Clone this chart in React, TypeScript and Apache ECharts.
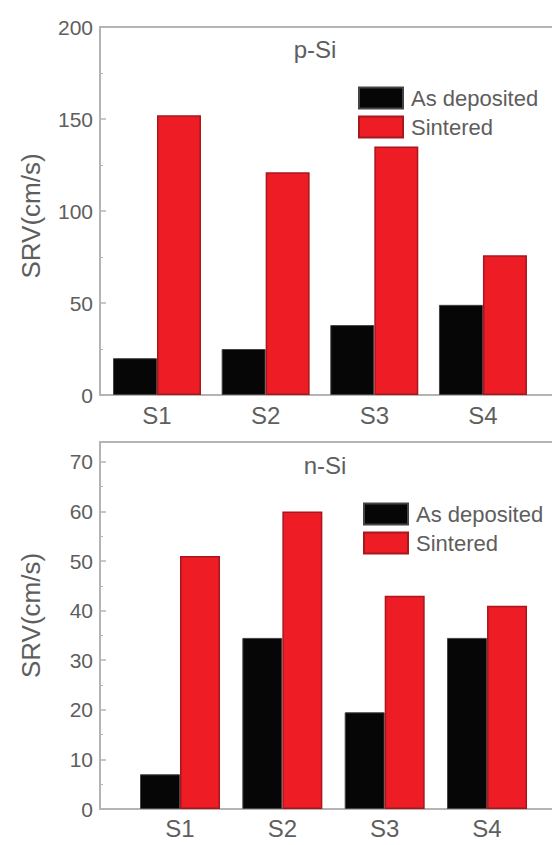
import React, { useEffect, useRef } from "react";
import * as echarts from "echarts";

const categories = ["S1", "S2", "S3", "S4"];
const seriesNames = ["As deposited", "Sintered"];
const pAsDeposited = [20, 25, 38, 49];
const pSintered = [152, 121, 135, 76];
const nAsDeposited = [7, 34.5, 19.5, 34.5];
const nSintered = [51, 60, 43, 41];
const panelTitles = ["p-Si", "n-Si"];
const yName = "SRV(cm/s)";
const xPositions = [1, 2, 3, 4];

const FONT = "'Liberation Sans', Arial, sans-serif";
const TEXT = "#5e5e5e";
const AXIS = "#b4b4b4";
const BLACK = "#060606";
const RED = "#ee1c24";

export default function App() {
  const ref = useRef<HTMLDivElement>(null);
  useEffect(() => {
    if (!ref.current) return;
    const chart = echarts.init(ref.current, undefined, { renderer: "svg" });
    const toData = (vals: number[]) => vals.map((v, i) => [xPositions[i], v]);
    const xAxisBase = (gridIndex: number, min: number, max: number, margin: number) => ({
      type: "value",
      gridIndex,
      min,
      max,
      splitLine: { show: false },
      axisLine: { show: true, lineStyle: { color: AXIS, width: 2 } },
      axisTick: { show: false },
      axisLabel: {
        customValues: xPositions,
        formatter: (v: number) => categories[Math.round(v) - 1] ?? "",
        fontSize: 24,
        color: TEXT,
        fontFamily: FONT,
        margin,
      },
    });
    const yAxisBase = (gridIndex: number, max: number, interval: number, padding: number[]) => ({
      type: "value",
      gridIndex,
      min: 0,
      max,
      interval,
      name: yName,
      nameLocation: "middle",
      nameRotate: 90,
      nameGap: 56,
      nameTextStyle: { fontSize: 26, color: TEXT, fontFamily: FONT, padding },
      splitLine: { show: false },
      axisLine: { show: true, lineStyle: { color: AXIS, width: 2 } },
      axisTick: { show: true, inside: true, length: 6, lineStyle: { color: AXIS, width: 1.5 } },
      minorTick: { show: true, splitNumber: 2, length: 3, lineStyle: { color: AXIS } },
      axisLabel: { fontSize: 21, color: TEXT, fontFamily: FONT, margin: 7 },
    });
    const barStyle = (name: string) =>
      name === seriesNames[0]
        ? { color: BLACK, borderColor: "#444", borderWidth: 1 }
        : { color: RED, borderColor: "#a8171d", borderWidth: 1.5 };
    const makeBar = (name: string, idx: number, vals: number[], width: number) => ({
      type: "bar",
      name,
      xAxisIndex: idx,
      yAxisIndex: idx,
      data: toData(vals),
      barWidth: width,
      barGap: "0%",
      itemStyle: barStyle(name),
    });
    const legendBase = (left: number, top: number) => ({
      orient: "vertical",
      left,
      top,
      itemWidth: 44,
      itemHeight: 21,
      itemGap: 6,
      icon: "rect",
      data: seriesNames,
      textStyle: { fontSize: 22, lineHeight: 22, color: TEXT, fontFamily: FONT, padding: [0, 0, 0, 3] },
    });
    chart.setOption({
      animation: false,
      backgroundColor: "#ffffff",
      grid: [
        { left: 92, top: 19, width: 460, height: 368, show: true, borderColor: AXIS, borderWidth: 2, containLabel: false },
        { left: 92, top: 434, width: 460, height: 367, show: true, borderColor: AXIS, borderWidth: 2, containLabel: false },
      ],
      xAxis: [xAxisBase(0, 0.4755, 4.709, 8), xAxisBase(1, 0.2182, 4.713, 7)],
      yAxis: [yAxisBase(0, 200, 50, [0, 10, 0, 0]), yAxisBase(1, 74, 10, [0, 0, 0, 20])],
      legend: [legendBase(345, 73.5), legendBase(350, 489.5)],
      series: [
        makeBar(seriesNames[0], 0, pAsDeposited, 44),
        makeBar(seriesNames[1], 0, pSintered, 44),
        makeBar(seriesNames[0], 1, nAsDeposited, 40),
        makeBar(seriesNames[1], 1, nSintered, 40),
      ],
      graphic: [
        {
          type: "text",
          x: 307,
          y: 41,
          style: { text: panelTitles[0], fontSize: 24, fill: TEXT, fontFamily: FONT, align: "center", verticalAlign: "middle" },
        },
        {
          type: "text",
          x: 317,
          y: 457,
          style: { text: panelTitles[1], fontSize: 24, fill: TEXT, fontFamily: FONT, align: "center", verticalAlign: "middle" },
        },
      ],
    });
    return () => chart.dispose();
  }, []);
  return (
    <div
      style={{
        margin: -8,
        padding: "8px 0 0 8px",
        width: 560,
        height: 845,
        boxSizing: "border-box",
        background: "#fdf2de",
        overflow: "hidden",
      }}
    >
      <div ref={ref} style={{ width: 552, height: 837 }} />
    </div>
  );
}
